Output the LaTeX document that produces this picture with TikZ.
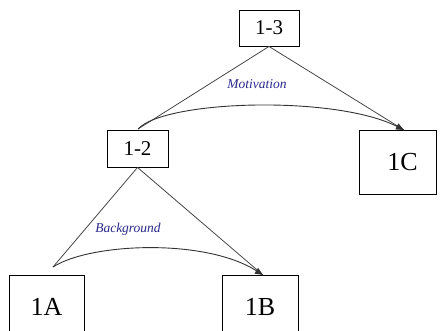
\documentclass[tikz,border=0pt]{standalone}
\usepackage{fontspec}
\setmainfont{Liberation Serif}
\usetikzlibrary{arrows.meta}
\definecolor{lbl}{RGB}{40,40,140}
\definecolor{ln}{RGB}{70,70,70}
\begin{document}
\begin{tikzpicture}[x=1pt,y=-1pt,
  box/.style={draw=black,line width=0.9pt,inner sep=0pt,fill=white},
  edge/.style={draw=ln,line width=0.8pt},
  flow/.style={draw=black!80,line width=0.9pt,-{Triangle[length=8pt,width=6.5pt]}},
  lab/.style={text=lbl,font=\fontsize{13.5}{14}\selectfont\itshape}]
\useasboundingbox (0,0) rectangle (441,331);
\node[box,minimum width=60pt,minimum height=36pt,font=\fontsize{21}{23}\selectfont] (n13) at (269,28) {1-3};
\node[box,minimum width=61pt,minimum height=37pt,font=\fontsize{21}{23}\selectfont] (n12) at (137.5,148.5) {1-2};
\node[box,minimum width=77pt,minimum height=64pt,font=\fontsize{26}{28}\selectfont] (n1C) at (397.5,162) {\hspace*{10pt}1C};
\node[box,minimum width=75pt,minimum height=64pt,font=\fontsize{26}{28}\selectfont] (n1A) at (46.5,307) {1A};
\node[box,minimum width=76pt,minimum height=64pt,font=\fontsize{26}{28}\selectfont] (n1B) at (260,307) {1B};
\coordinate (a12) at (138,129);
\coordinate (a1C) at (404,130);
\coordinate (aA) at (53,267);
\coordinate (aB) at (263,275);
\draw[edge] (n13.south) -- (a12);
\draw[edge] (n13.south) -- (a1C);
\draw[edge] (n12.south) -- (aA);
\draw[edge] (n12.south) -- (aB);
\draw[flow] (a12) .. controls (165,100) and (335,95) .. (a1C);
\draw[flow] (aA) .. controls (90,243) and (205,238) .. (aB);
\node[lab] (motiv) at (257,84) {Motivation};
\node[lab] (backg) at (128,229) {Background};
\end{tikzpicture}
\end{document}
